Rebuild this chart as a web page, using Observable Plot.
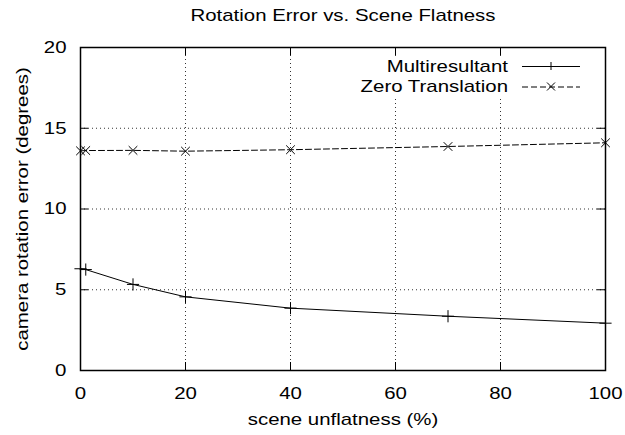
<!DOCTYPE html>
<html><head><meta charset="utf-8">
<script src="https://cdn.jsdelivr.net/npm/d3@7"></script>
<script src="https://cdn.jsdelivr.net/npm/@observablehq/plot@0.6"></script>
<style>body{margin:0;background:#fff}</style>
</head><body><div id="chart"></div>
<script>
const xValues = [0, 1, 10, 20, 40, 70, 100];
const multiresultant = [6.30, 6.25, 5.33, 4.56, 3.86, 3.36, 2.93];
const zeroTranslation = [13.60, 13.62, 13.63, 13.58, 13.67, 13.87, 14.10];
const seriesNames = ["Multiresultant", "Zero Translation"];
const xTicks = [0, 20, 40, 60, 80, 100];
const yTicks = [0, 5, 10, 15, 20];
const title = "Rotation Error vs. Scene Flatness";
const xLabel = "scene unflatness (%)";
const yLabel = "camera rotation error (degrees)";

const W = 625, H = 435, mL = 80, mR = 20, mT = 47, mB = 65;
const plotW = W - mL - mR, plotH = H - mT - mB, tick = 8;
const font = "'Liberation Sans', Arial, Helvetica, sans-serif";
const widen = 1.2;

const multi = xValues.map((x, i) => ({x, y: multiresultant[i]}));
const zero = xValues.map((x, i) => ({x, y: zeroTranslation[i]}));

function legend(index, scales, values, dims) {
  const g = d3.create("svg:g").attr("font-family", font).attr("font-size", 17);
  const right = dims.width - dims.marginRight;
  const top = dims.marginTop;
  g.append("rect").attr("x", 350).attr("y", top + 9).attr("width", right - 8 - 350).attr("height", 41).attr("fill", "white");
  const rows = [
    {name: seriesNames[0], dash: null, sym: "plus"},
    {name: seriesNames[1], dash: "6,3", sym: "times"}
  ];
  rows.forEach((r, i) => {
    const cy = top + 19 + i * 20.5;
    g.append("text").attr("x", right - 97).attr("y", cy).attr("dy", "0.35em").attr("text-anchor", "end").text(r.name);
    g.append("line").attr("x1", right - 83).attr("x2", right - 25).attr("y1", cy + 0.5).attr("y2", cy + 0.5)
      .attr("stroke", "black").attr("stroke-dasharray", r.dash);
    const mx = right - 54, s = 4;
    const path = r.sym === "plus"
      ? `M${mx - s},${cy + 0.5}H${mx + s}M${mx},${cy - s}V${cy + s}`
      : `M${mx - s},${cy - s}L${mx + s},${cy + s}M${mx - s},${cy + s}L${mx + s},${cy - s}`;
    g.append("path").attr("d", path).attr("stroke", "black").attr("fill", "none");
  });
  return g.node();
}

const chart = Plot.plot({
  width: W, height: H,
  marginLeft: mL, marginRight: mR, marginTop: mT, marginBottom: mB,
  x: {domain: [0, 100]},
  y: {domain: [0, 20]},
  style: {fontFamily: font, fontSize: "17px", background: "white", color: "black", overflow: "visible"},
  marks: [
    Plot.gridX(xTicks, {stroke: "black", strokeOpacity: 0.8, strokeDasharray: "1,3"}),
    Plot.gridY(yTicks, {stroke: "black", strokeOpacity: 0.8, strokeDasharray: "1,3"}),
    legend,
    Plot.tickX(xTicks, {x: d => d, insetTop: plotH - tick, stroke: "black"}),
    Plot.tickX(xTicks, {x: d => d, insetBottom: plotH - tick, stroke: "black"}),
    Plot.tickY(yTicks, {y: d => d, insetRight: plotW - tick, stroke: "black"}),
    Plot.tickY(yTicks, {y: d => d, insetLeft: plotW - tick, stroke: "black"}),
    Plot.frame({stroke: "black", strokeWidth: 1.5}),
    Plot.axisX(xTicks, {anchor: "bottom", tickSize: 0, tickPadding: 16, label: null, fontSize: 17}),
    Plot.axisY(yTicks, {anchor: "left", tickSize: 0, tickPadding: 14, label: null, fontSize: 17}),
    Plot.line(multi, {x: "x", y: "y", stroke: "black", strokeWidth: 1}),
    Plot.dot(multi, {x: "x", y: "y", symbol: "plus", stroke: "black", r: 4, strokeWidth: 1}),
    Plot.line(zero, {x: "x", y: "y", stroke: "black", strokeWidth: 1, strokeDasharray: "6,3"}),
    Plot.dot(zero, {x: "x", y: "y", symbol: "times", stroke: "black", r: 4, strokeWidth: 1}),
    Plot.text([title], {frameAnchor: "top", dy: -32, lineAnchor: "middle", textAnchor: "middle", fontSize: 17, text: d => d}),
    Plot.text([xLabel], {frameAnchor: "bottom", dy: 49, lineAnchor: "middle", textAnchor: "middle", fontSize: 17, text: d => d}),
    Plot.text([yLabel], {frameAnchor: "left", dx: -58, rotate: -90, lineAnchor: "middle", textAnchor: "middle", fontSize: 17, text: d => d})
  ]
});
document.getElementById("chart").appendChild(chart);
chart.querySelectorAll("text").forEach(t => {
  const len = t.getComputedTextLength();
  if (len > 0) {
    t.setAttribute("textLength", (len * widen).toFixed(1));
    t.setAttribute("lengthAdjust", "spacingAndGlyphs");
  }
});
</script>
</body></html>
